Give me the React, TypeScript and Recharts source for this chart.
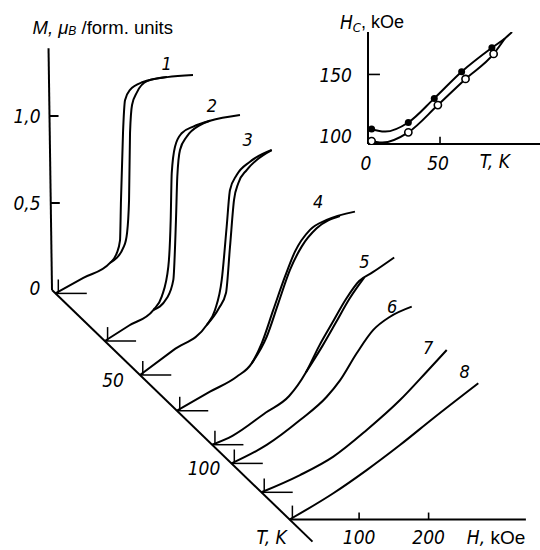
import React from 'react';
import {
  ComposedChart,
  Line,
  Scatter,
  XAxis,
  YAxis,
  ReferenceLine,
  ReferenceDot,
} from 'recharts';

// isotherms M(H): curve number, temperature (K)
const curveNames = ['1', '2', '3', '4', '5', '6', '7', '8'];
const curveT = [2, 30, 50, 71, 91, 102, 119, 135];

// main branch, H in kOe and M in mu_B / form. units
const curveH = [
  [0, 40, 78.4, 88, 92.8, 94.2, 97.1, 100, 107.2, 125.9, 160.4, 197.8],
  [0, 35, 69.8, 81.9, 91.4, 94.8, 96.3, 101, 110.6, 127.3, 151.4, 194.5],
  [0, 48, 96, 107.9, 117.6, 124.7, 129.5, 139.1, 158.3, 189.5],
  [0, 47.5, 85.9, 107.5, 121.9, 138.6, 155.4, 169.8, 191.4, 215.4, 256.1],
  [0, 29.2, 77.3, 110.8, 134.8, 154, 173.1, 192.4, 211.5, 230.6, 261.9],
  [0, 50.6, 98.6, 137, 156.1, 180.1, 204, 228.1, 259.3],
  [0, 55.5, 103.5, 151.5, 199.4, 237.8, 266.6],
  [0, 62.9, 110.9, 158.8, 206.8, 271.5],
];
const curveM = [
  [0, 0.089, 0.175, 0.23, 0.305, 0.537, 0.922, 1.11, 1.17, 1.215, 1.243, 1.255],
  [0, 0.089, 0.178, 0.255, 0.427, 0.695, 0.964, 1.117, 1.194, 1.232, 1.266, 1.299],
  [0, 0.143, 0.287, 0.374, 0.546, 0.852, 1.063, 1.149, 1.226, 1.293],
  [0, 0.109, 0.195, 0.272, 0.387, 0.579, 0.77, 0.914, 1.039, 1.096, 1.144],
  [0, 0.051, 0.185, 0.28, 0.415, 0.568, 0.702, 0.836, 0.941, 0.99, 1.076],
  [0, 0.106, 0.249, 0.383, 0.477, 0.633, 0.767, 0.843, 0.901],
  [0, 0.099, 0.205, 0.358, 0.53, 0.693, 0.818],
  [0, 0.151, 0.284, 0.428, 0.582, 0.783],
];

// second branch of the hysteresis loops (curves 1-5)
const loopH = [
  [78.4, 98.6, 102.9, 105.8, 107.2, 110.1, 117.3, 131.7, 160.4],
  [69.8, 89.1, 98.6, 102.4, 104.3, 108.2, 117.8, 137, 151.4],
  [96, 113.7, 123.7, 129.5, 135.3, 141.4, 153.5, 167.9, 189.5],
  [107.5, 129.1, 145.8, 162.6, 179.4, 201, 234.5],
  [134.8, 158.7, 178, 197.1, 218.7],
];
const loopM = [
  [0.175, 0.272, 0.347, 0.537, 0.922, 1.083, 1.157, 1.22, 1.243],
  [0.178, 0.245, 0.351, 0.695, 0.944, 1.098, 1.174, 1.241, 1.266],
  [0.287, 0.385, 0.471, 0.737, 1.006, 1.102, 1.178, 1.236, 1.293],
  [0.272, 0.425, 0.617, 0.809, 0.943, 1.048, 1.119],
  [0.415, 0.568, 0.702, 0.836, 0.96],
];

const mTicks = [0.5, 1.0];
const mTickLabels = ['0,5', '1,0'];
const tTicks = [50, 100];
const hTicks = [100, 200];

// inset: coercive field Hc(T)
const hcFilledT = [2.5, 28, 46, 65, 86];
const hcFilled = [105.1, 110.5, 130.3, 152.2, 171.9];
const hcOpenT = [2.5, 28, 48.5, 67.7, 87.2];
const hcOpen = [95.2, 102.4, 124.8, 146.3, 166.9];
const hcFilledLineT = [0, 12, 28, 46, 65, 86, 95, 100];
const hcFilledLine = [105.6, 103, 110.5, 130.3, 152.2, 171.9, 179.6, 184.9];
const hcOpenLineT = [0, 10, 28, 48.5, 67.7, 87.2, 95];
const hcOpenLine = [95.5, 94, 102.4, 124.8, 146.3, 166.9, 179.6];
const insetTTicks = [0, 50];
const insetHcTicks = [100, 150];

// oblique projection of (T, H, M) onto the page
const WIDTH = 540;
const HEIGHT = 550;
const ORIGIN_X = 52;
const ORIGIN_Y = 290;
const PX_PER_KOE = 0.695;
const PX_PER_MU = 174;
const PX_PER_K_X = 1.76;
const PX_PER_K_Y = 1.7;
const KX = PX_PER_K_X / PX_PER_KOE;
const KY = PX_PER_K_Y / PX_PER_MU;

const X_DOMAIN = [-ORIGIN_X / PX_PER_KOE, (WIDTH - ORIGIN_X) / PX_PER_KOE];
const Y_DOMAIN = [-(HEIGHT - ORIGIN_Y) / PX_PER_MU, ORIGIN_Y / PX_PER_MU];

const proj = (t: number, h: number, m: number) => ({ x: h + KX * t, y: m - KY * t });

const T_END = 148;
const H_END = 340;
const M_TOP = 1.39;
const M_AXIS_LEAN = -5;

const labelH = [160, 154, 155, 203, 219, 231, 240, 252];
const labelM = [1.324, 1.356, 1.351, 1.2, 1.055, 0.899, 0.835, 0.848];

const NUM_FONT: React.CSSProperties = {
  fontFamily: 'DejaVu Sans',
  fontStyle: 'italic',
  fontStretch: 'condensed',
  fontSize: 19,
};
const TEXT_FONT = "'Liberation Sans', Arial, sans-serif";

type TxtOpts = {
  dx?: number;
  dy?: number;
  anchor?: 'start' | 'middle' | 'end';
  style?: React.CSSProperties;
};

function textAt(key: string, x: number, y: number, content: React.ReactNode, o: TxtOpts = {}) {
  return (
    <ReferenceDot
      key={key}
      x={x}
      y={y}
      r={1}
      ifOverflow="visible"
      shape={(p: any) => (
        <text
          x={p.cx + (o.dx ?? 0)}
          y={p.cy + (o.dy ?? 0)}
          textAnchor={o.anchor ?? 'middle'}
          dominantBaseline="central"
          fill="#000"
          style={o.style ?? NUM_FONT}
        >
          {content}
        </text>
      )}
    />
  );
}

function seg(key: string, a: { x: number; y: number }, b: { x: number; y: number }, w = 2) {
  return (
    <ReferenceLine
      key={key}
      segment={[a, b]}
      stroke="#000"
      strokeWidth={w}
      ifOverflow="visible"
    />
  );
}

function MainChart() {
  const lines = curveH.map((hs, i) =>
    hs.map((h, j) => proj(curveT[i], h, curveM[i][j]))
  );
  const loops = loopH.map((hs, i) =>
    hs.map((h, j) => proj(curveT[i], h, loopM[i][j]))
  );
  const origin = proj(0, 0, 0);

  return (
    <ComposedChart width={WIDTH} height={HEIGHT} margin={{ top: 0, right: 0, bottom: 0, left: 0 }}>
      <XAxis type="number" dataKey="x" domain={X_DOMAIN} allowDataOverflow hide />
      <YAxis type="number" dataKey="y" domain={Y_DOMAIN} allowDataOverflow hide />

      {/* M axis, T axis, H axis */}
      {seg('maxis', { x: M_AXIS_LEAN, y: M_TOP }, origin)}
      {seg('taxis', origin, proj(T_END, 0, 0))}
      {seg('haxis', proj(curveT[7], 0, 0), proj(curveT[7], H_END, 0))}
      {mTicks.map((m) =>
        seg('mt' + m, { x: (M_AXIS_LEAN * m) / M_TOP, y: m }, { x: (M_AXIS_LEAN * m) / M_TOP + 13, y: m })
      )}
      {hTicks.map((h) => seg('ht' + h, proj(curveT[7], h, 0), proj(curveT[7], h, 0.04), 1.6))}

      {/* local frame marks at each isotherm */}
      {curveT.map((t, i) => [
        i < 7 ? seg('bh' + i, proj(t, 0, 0), proj(t, 45, 0), 1.5) : null,
        seg('bv' + i, proj(t, 4, 0), proj(t, 4, 0.08), 1.5),
      ])}

      {lines.map((pts, i) => (
        <Line
          key={'c' + i}
          data={pts}
          dataKey="y"
          type="monotone"
          stroke="#000"
          strokeWidth={2}
          dot={false}
          activeDot={false}
          isAnimationActive={false}
        />
      ))}
      {loops.map((pts, i) => (
        <Line
          key={'l' + i}
          data={pts}
          dataKey="y"
          type="monotone"
          stroke="#000"
          strokeWidth={2}
          dot={false}
          activeDot={false}
          isAnimationActive={false}
        />
      ))}

      {/* texts */}
      {mTicks.map((m, i) => textAt('ml' + m, 0, m, mTickLabels[i], { dx: -25 }))}
      {textAt('m0', 0, 0, '0', { dx: -17, dy: -2 })}
      {tTicks.map((t) => {
        const p = proj(t, 0, 0);
        return textAt('tl' + t, p.x, p.y, String(t), { dx: t < 100 ? -27 : -24, dy: t < 100 ? 5 : 8 });
      })}
      {(() => {
        const p = proj(curveT[7], 0, 0);
        return textAt('tk', p.x, p.y, 'T, K', { dx: -18, dy: 17 });
      })()}
      {hTicks.map((h) => {
        const p = proj(curveT[7], h, 0);
        return textAt('hl' + h, p.x, p.y, String(h), { dy: 17 });
      })}
      {(() => {
        const p = proj(curveT[7], 255, 0);
        return textAt(
          'hk',
          p.x,
          p.y,
          <>
            <tspan style={NUM_FONT}>H, </tspan>
            <tspan style={{ fontFamily: TEXT_FONT, fontSize: 19, fontStyle: 'normal' }}>kOe</tspan>
          </>,
          { dy: 17, anchor: 'start', style: NUM_FONT }
        );
      })()}
      {textAt(
        'title',
        M_AXIS_LEAN,
        M_TOP,
        <>
          <tspan style={{ fontStyle: 'italic' }}>M, μ</tspan>
          <tspan style={{ fontStyle: 'italic', fontSize: 12 }} dy={4}>B</tspan>
          <tspan dy={-4}> /form. units</tspan>
        </>,
        { dx: -16, dy: -21, anchor: 'start', style: { fontFamily: TEXT_FONT, fontSize: 18.5 } }
      )}
      {curveNames.map((n, i) => {
        const p = proj(curveT[i], labelH[i], labelM[i]);
        return textAt('cn' + i, p.x, p.y, n, { style: { ...NUM_FONT, fontSize: 18 } });
      })}
    </ComposedChart>
  );
}

function InsetChart() {
  const filledPts = hcFilledT.map((t, i) => ({ t, hc: hcFilled[i] }));
  const openPts = hcOpenT.map((t, i) => ({ t, hc: hcOpen[i] }));
  const filledLine = hcFilledLineT.map((t, i) => ({ t, hc: hcFilledLine[i] }));
  const openLine = hcOpenLineT.map((t, i) => ({ t, hc: hcOpenLine[i] }));

  return (
    <ComposedChart width={240} height={200} margin={{ top: 32, right: 0, bottom: 28, left: 0 }}>
      <XAxis
        type="number"
        dataKey="t"
        domain={[0, 119.4]}
        allowDataOverflow
        ticks={insetTTicks}
        axisLine={{ stroke: '#000', strokeWidth: 2 }}
        tickLine={false}
        tickSize={0}
        height={28}
        tick={(p: any) => (
          <text x={p.x - 2} y={p.y + 17} textAnchor="middle" dominantBaseline="central" style={NUM_FONT}>
            {p.payload.value}
          </text>
        )}
      />
      <YAxis
        type="number"
        dataKey="hc"
        domain={[92.8, 184.9]}
        allowDataOverflow
        ticks={insetHcTicks}
        width={68}
        axisLine={{ stroke: '#000', strokeWidth: 2 }}
        tickLine={false}
        tickSize={0}
        tick={(p: any) => (
          <text x={p.x - 14} y={p.y + 1} textAnchor="end" dominantBaseline="central" style={NUM_FONT}>
            {p.payload.value}
          </text>
        )}
      />
      <ReferenceLine segment={[{ x: 0, y: 150 }, { x: 8.3, y: 150 }]} stroke="#000" strokeWidth={1.6} />
      <ReferenceLine segment={[{ x: 50, y: 92.8 }, { x: 50, y: 98.8 }]} stroke="#000" strokeWidth={1.6} />

      <Line data={filledLine} dataKey="hc" type="monotone" stroke="#000" strokeWidth={2}
        dot={false} activeDot={false} isAnimationActive={false} />
      <Line data={openLine} dataKey="hc" type="monotone" stroke="#000" strokeWidth={2}
        dot={false} activeDot={false} isAnimationActive={false} />
      <Scatter data={filledPts} isAnimationActive={false}
        shape={(p: any) => <circle cx={p.cx} cy={p.cy} r={3.5} fill="#000" />} />
      <Scatter data={openPts} isAnimationActive={false}
        shape={(p: any) => <circle cx={p.cx} cy={p.cy} r={3.6} fill="#fff" stroke="#000" strokeWidth={1.6} />} />

      <ReferenceDot x={88} y={92.8} r={1} ifOverflow="visible"
        shape={(p: any) => (
          <text x={p.cx} y={p.cy + 17} textAnchor="middle" dominantBaseline="central" style={NUM_FONT}>
            T, K
          </text>
        )}
      />
      <ReferenceDot x={0} y={184.9} r={1} ifOverflow="visible"
        shape={(p: any) => (
          <text x={p.cx - 28} y={p.cy - 10} textAnchor="start" dominantBaseline="central"
            style={{ fontFamily: TEXT_FONT, fontSize: 18 }}>
            <tspan style={NUM_FONT}>H</tspan>
            <tspan style={{ ...NUM_FONT, fontSize: 13 }} dy={5}>C</tspan>
            <tspan dy={-5}>, kOe</tspan>
          </text>
        )}
      />
    </ComposedChart>
  );
}

export default function App() {
  return (
    <div style={{ position: 'absolute', left: 0, top: 0, width: WIDTH, height: HEIGHT, background: '#fff' }}>
      <MainChart />
      <div style={{ position: 'absolute', left: 300, top: 0 }}>
        <InsetChart />
      </div>
    </div>
  );
}
